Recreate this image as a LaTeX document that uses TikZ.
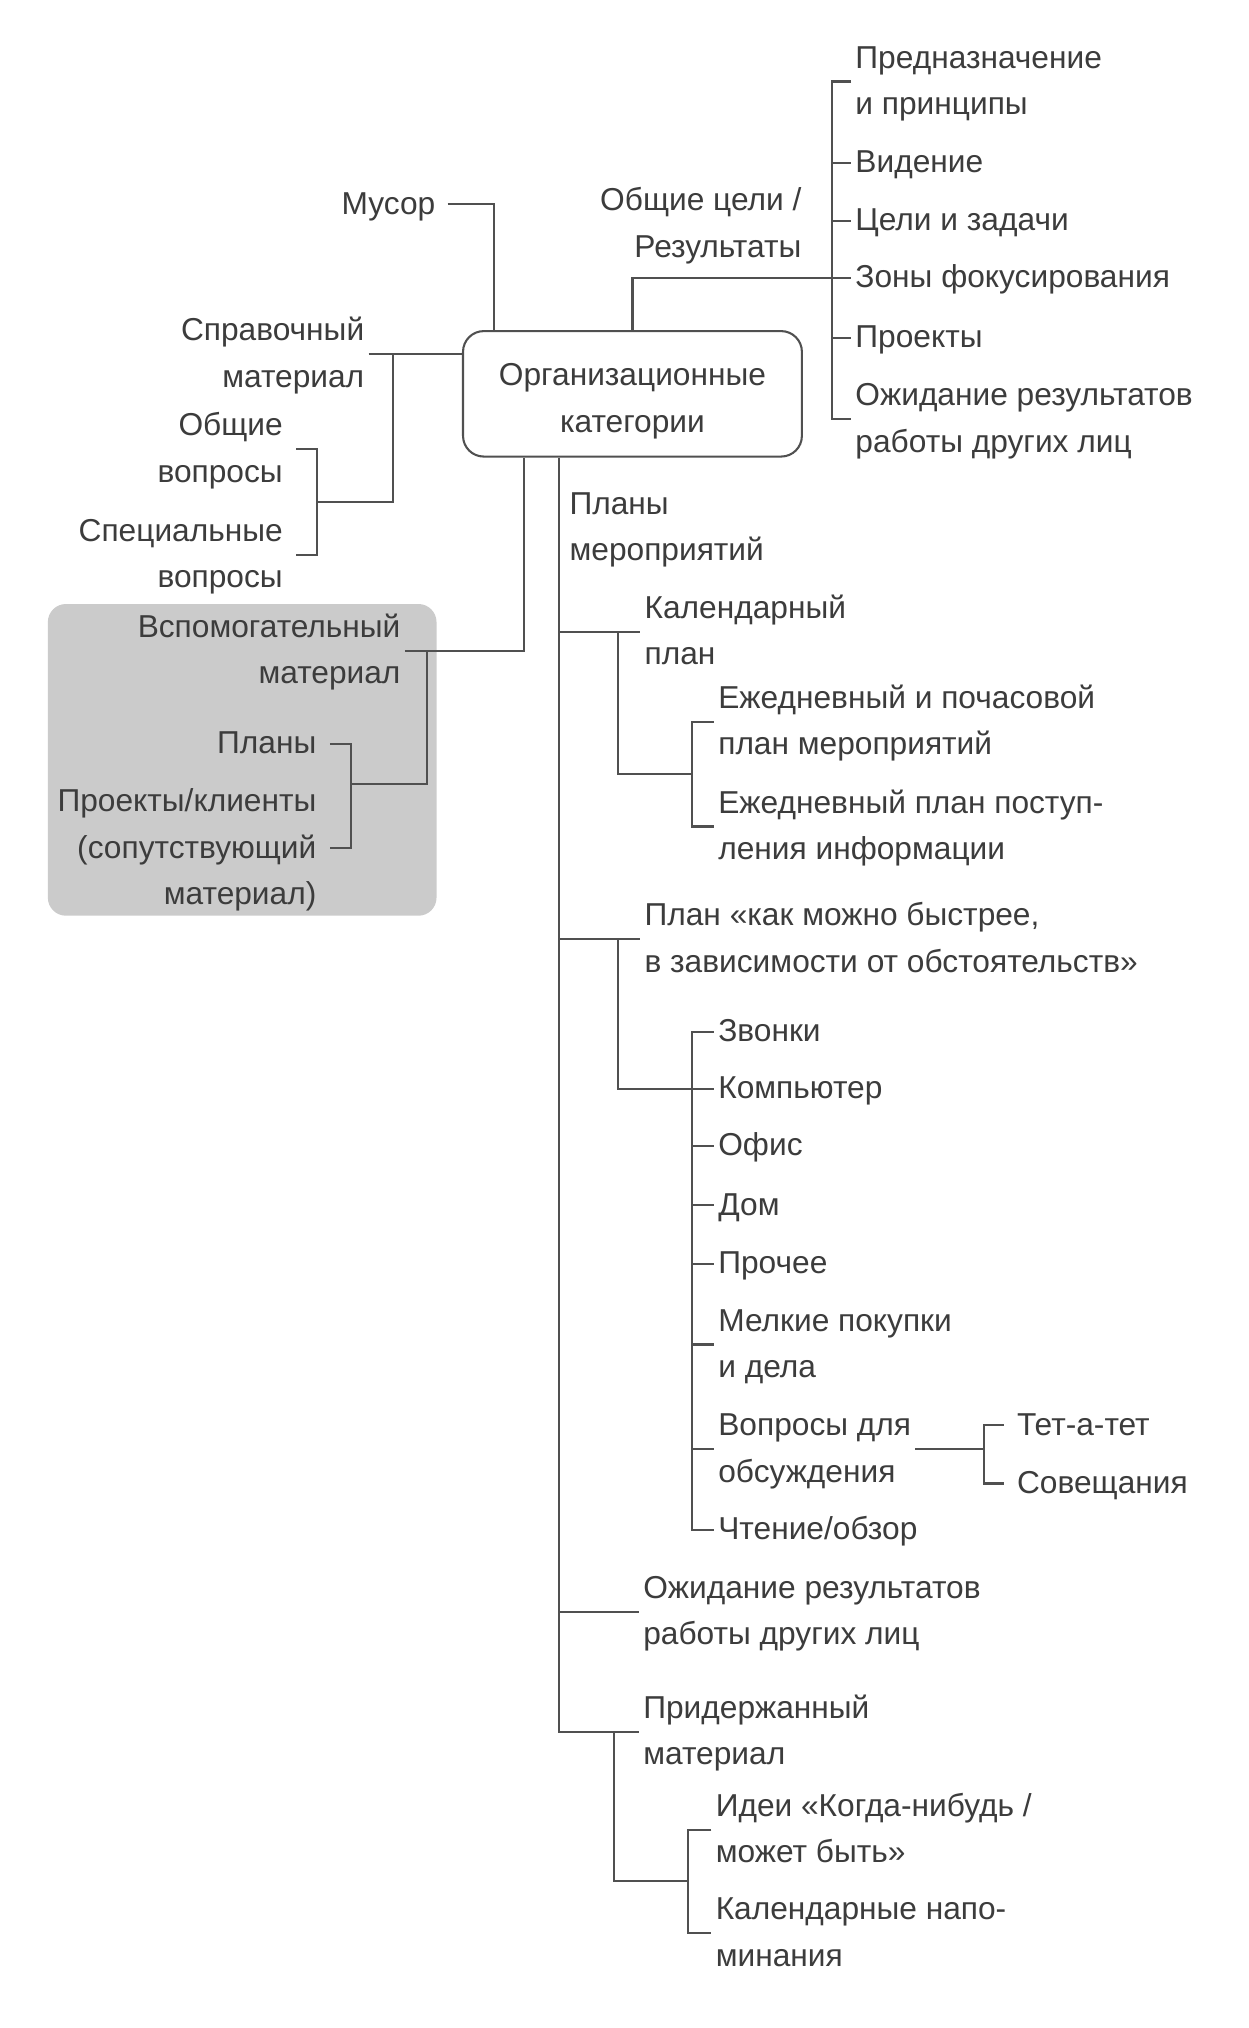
\documentclass[tikz,border=0pt]{standalone}
\usepackage{fontspec}
\setmainfont{Liberation Sans}
\usetikzlibrary{calc}
\definecolor{txt}{HTML}{3C3C3C}
\definecolor{ln}{HTML}{505050}
\definecolor{gbox}{HTML}{CBCBCB}
\newcommand\st{\rule[-3.4pt]{0pt}{14.4pt}}
\newcommand\bst{\rule{0pt}{15pt}}
\begin{document}
\begin{tikzpicture}[x=0.5pt,y=-0.5pt,
  every node/.style={text=txt, font=\fontsize{12.25}{18}\selectfont, inner sep=0pt, inner xsep=1.5pt},
  L/.style={anchor=west, align=left},
  R/.style={anchor=east, align=right},
  conn/.style={draw=ln, line width=0.8pt},
]
\useasboundingbox[fill=white] (0,0) rectangle (965,1568);
% grey area
\fill[gbox, rounded corners=7pt] (37,467) rectangle (337.5,708);

% main box
\node[draw=ln, line width=0.8pt, rounded corners=8pt, minimum width=131pt, minimum height=48.5pt, align=center] (box) at (489,304.5) {\bst Организационные\\\st категории};

% top right list
\node[L] (pn) at (658,63) {\st Предназначение\\\st и принципы};
\node[L] (vi) at (658,126) {\st Видение};
\node[L] (cz) at (658,171) {\st Цели и задачи};
\node[L] (zf) at (658,215) {\st Зоны фокусирования};
\node[L] (pr) at (658,261) {\st Проекты};
\node[L] (or) at (658,324) {\st Ожидание результатов\\\st работы других лиц};
\coordinate (b1) at (643,215);
\draw[conn] (pn.west) -| (b1) |- (or.west);
\draw[conn] (vi.west -| b1) -- (vi.west);
\draw[conn] (cz.west -| b1) -- (cz.west);
\draw[conn] (pr.west -| b1) -- (pr.west);
\draw[conn] (box.north) |- (zf.west);

\node[R] (oc) at (623,173.5) {\st Общие цели /\\\st Результаты};

% Musor
\node[R] (mu) at (340,158) {\st Мусор};
\draw[conn] ([xshift=3pt]mu.east) -| ($(box.north west)+(25,0)$);

% Spravochny
\node[R] (sm) at (285,274) {\st Справочный\\\st материал};
\draw[conn] (sm.east) -- (sm.east -| box.west);
\coordinate (j1) at (304,274);
\coordinate (j2) at (245,388);
\draw[conn] (j1) |- (j2);
\node[R] (ov) at (222,347.5) {\st Общие\\\st вопросы};
\node[R] (sv) at (222,429) {\st Специальные\\\st вопросы};
\draw[conn] ([xshift=3.5pt]ov.east) -| (j2) |- ([xshift=3.5pt]sv.east);

% Vspomogatelny
\node[R] (vm) at (313,503) {\st Вспомогательный\\\st материал};
\draw[conn] (vm.east) -| ($(box.south west)+(48,0)$);
\coordinate (j4) at (330,503);
\coordinate (j3) at (271.5,606);
\draw[conn] (j4) |- (j3);
\node[R] (pl) at (248,575) {\st Планы};
\node[R] (pk2) at (248,656) {\st Проекты/клиенты\\\st (сопутствующий\\\st материал)};
\draw[conn] ([xshift=3.5pt]pl.east) -| (j3) |- ([xshift=3.5pt]pk2.east);

% trunk
\coordinate (tb) at ($(box.south west)+(75,0)$);
\node[L] (plm) at (437,408) {\st Планы\\\st мероприятий};
\node[L] (kp) at (495,488.5) {\st Календарный\\\st план};
\node[L] (pb) at (495,726) {\st План «как можно быстрее,\\\st в зависимости от обстоятельств»};
\node[L] (oz) at (494,1246) {\st Ожидание результатов\\\st работы других лиц};
\node[L] (prd) at (494,1339) {\st Придержанный\\\st материал};
\draw[conn] (tb) |- (prd.west);
\draw[conn] (kp.west -| tb) -- (kp.west);
\draw[conn] (pb.west -| tb) -- (pb.west);
\draw[conn] (oz.west -| tb) -- (oz.west);

% calendar plan
\node[L] (e1) at (552,558) {\st Ежедневный и почасовой\\\st план мероприятий};
\node[L] (e2) at (552,639) {\st Ежедневный план поступ-\\\st ления информации};
\coordinate (j6) at (477.6,488.5);
\coordinate (j5) at (535,598.5);
\draw[conn] (j6) |- (j5);
\draw[conn] (e1.west) -| (j5) |- (e2.west);

% asap plan
\node[L] (zv) at (552,798) {\st Звонки};
\node[L] (km) at (552,842) {\st Компьютер};
\node[L] (of) at (552,886) {\st Офис};
\node[L] (dm) at (552,932) {\st Дом};
\node[L] (pc) at (552,977) {\st Прочее};
\node[L] (mp) at (552,1039.5) {\st Мелкие покупки\\\st и дела};
\node[L] (vd) at (552,1120.3) {\st Вопросы для\\\st обсуждения};
\node[L] (ch) at (552,1183) {\st Чтение/обзор};
\coordinate (j7) at (477.6,726);
\coordinate (j8) at (535,842);
\draw[conn] (j7) |- (km.west);
\draw[conn] (zv.west) -| (j8) |- (ch.west);
\draw[conn] (of.west -| j8) -- (of.west);
\draw[conn] (dm.west -| j8) -- (dm.west);
\draw[conn] (pc.west -| j8) -- (pc.west);
\draw[conn] (mp.west -| j8) -- (mp.west);
\draw[conn] (vd.west -| j8) -- (vd.west);

\node[L] (tt) at (783,1102) {\st Тет-а-тет};
\node[L] (sov) at (783,1147) {\st Совещания};
\coordinate (j9) at (761,1120.3);
\draw[conn] (vd.east) -- (j9);
\draw[conn] ([xshift=-3.5pt]tt.west) -| (j9) |- ([xshift=-3.5pt]sov.west);

% held material
\node[L] (id) at (550,1414.6) {\st Идеи «Когда-нибудь /\\\st может быть»};
\node[L] (kn) at (550,1494.5) {\st Календарные напо-\\\st минания};
\coordinate (j10) at (475,1339);
\coordinate (j11) at (532,1454.5);
\draw[conn] (j10) |- (j11);
\draw[conn] (id.west) -| (j11) |- (kn.west);
\end{tikzpicture}
\end{document}
